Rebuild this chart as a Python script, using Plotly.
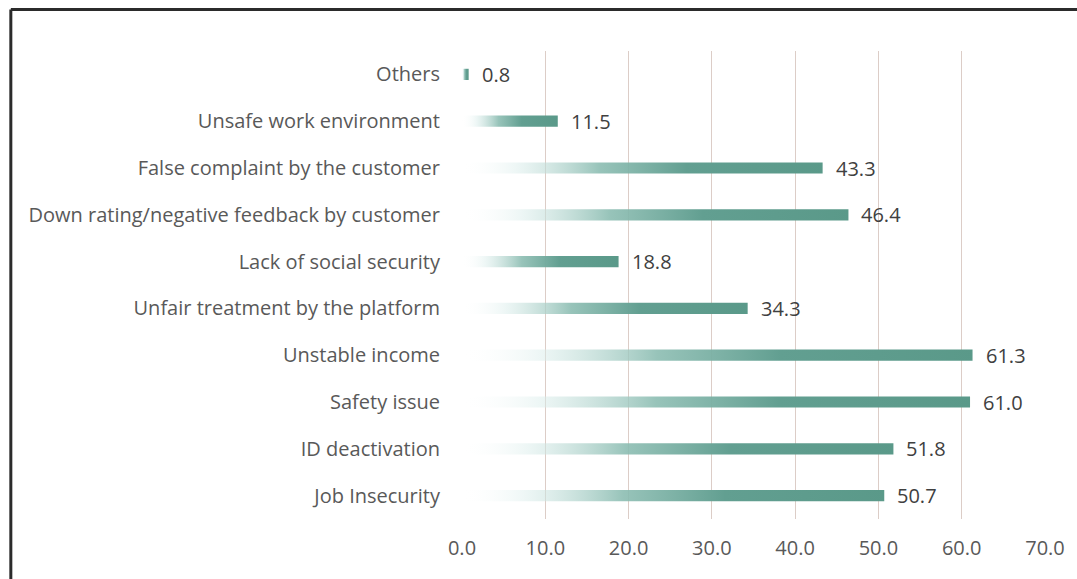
import plotly.graph_objects as go

# Survey results: share of respondents (%) naming each problem
categories = [
    "Others",
    "Unsafe work environment",
    "False complaint by the customer",
    "Down rating/negative feedback by customer",
    "Lack of social security",
    "Unfair treatment by the platform",
    "Unstable income",
    "Safety issue",
    "ID deactivation",
    "Job Insecurity",
]
values = [0.8, 11.5, 43.3, 46.4, 18.8, 34.3, 61.3, 61.0, 51.8, 50.7]
x_ticks = [0, 10, 20, 30, 40, 50, 60, 70]
x_tick_labels = ["0.0", "10.0", "20.0", "30.0", "40.0", "50.0", "60.0", "70.0"]

W, H = 1077, 579
M_L, M_R, M_T, M_B = 462, 29, 51, 60
TEAL = "#5a9989"
FONT = "Open Sans"

# bottom category sits at y=0, top category at y=n-1
n = len(categories)
ypos = [n - 1 - i for i in range(n)]
half = 0.12  # half bar thickness in category units

fade = [
    [0.0, "rgba(255,255,255,0)"],
    [0.15, "rgba(220,238,236,0.5)"],
    [0.38, "rgba(140,189,178,0.9)"],
    [0.62, "#629f91"],
    [1.0, TEAL],
]

fig = go.Figure()
for cat, v, y in zip(categories, values, ypos):
    fig.add_trace(go.Scatter(
        x=[0, v, v, 0, 0],
        y=[y - half, y - half, y + half, y + half, y - half],
        mode="lines",
        line=dict(width=0),
        fill="toself",
        fillcolor=TEAL,
        fillgradient=dict(type="horizontal", colorscale=fade, start=0, stop=v),
        hoverinfo="skip",
        showlegend=False,
        name=cat,
    ))

# value labels at the end of each bar
for v, y in zip(values, ypos):
    fig.add_annotation(
        x=v, y=y, text=f"{v:.1f}", showarrow=False,
        xanchor="left", yanchor="middle", xshift=11,
        font=dict(family=FONT, size=20, color="#404040"),
    )

# frame line along the top and left edges of the image
def px_to_paper_x(px):
    return (px - M_L) / (W - M_L - M_R)

def px_to_paper_y(py):
    return (H - M_B - py) / (H - M_T - M_B)

frame = dict(color="#2b2b2b", width=3)
fig.add_shape(type="line", xref="paper", yref="paper",
              x0=px_to_paper_x(8.5), x1=px_to_paper_x(W + 5),
              y0=px_to_paper_y(9.5), y1=px_to_paper_y(9.5), line=frame)
fig.add_shape(type="line", xref="paper", yref="paper",
              x0=px_to_paper_x(8.5), x1=px_to_paper_x(8.5),
              y0=px_to_paper_y(9.5), y1=px_to_paper_y(H + 5), line=frame)

fig.update_layout(
    width=W, height=H,
    margin=dict(l=M_L, r=M_R, t=M_T, b=M_B),
    paper_bgcolor="white", plot_bgcolor="white",
    showlegend=False,
    xaxis=dict(
        range=[0, 70], tickvals=x_ticks, ticktext=x_tick_labels,
        showgrid=True, gridcolor="#dccdc7", gridwidth=1,
        zeroline=False, showline=False, ticks="", ticklabelstandoff=15,
        tickfont=dict(family=FONT, size=20, color="#595959"),
        fixedrange=True,
    ),
    yaxis=dict(
        range=[-0.5, n - 0.5], tickvals=ypos, ticktext=categories,
        showgrid=False, zeroline=False, showline=False, ticks="",
        ticklabelstandoff=21,
        tickfont=dict(family=FONT, size=20, color="#595959"),
        fixedrange=True,
    ),
)

fig.write_html("out.html")
